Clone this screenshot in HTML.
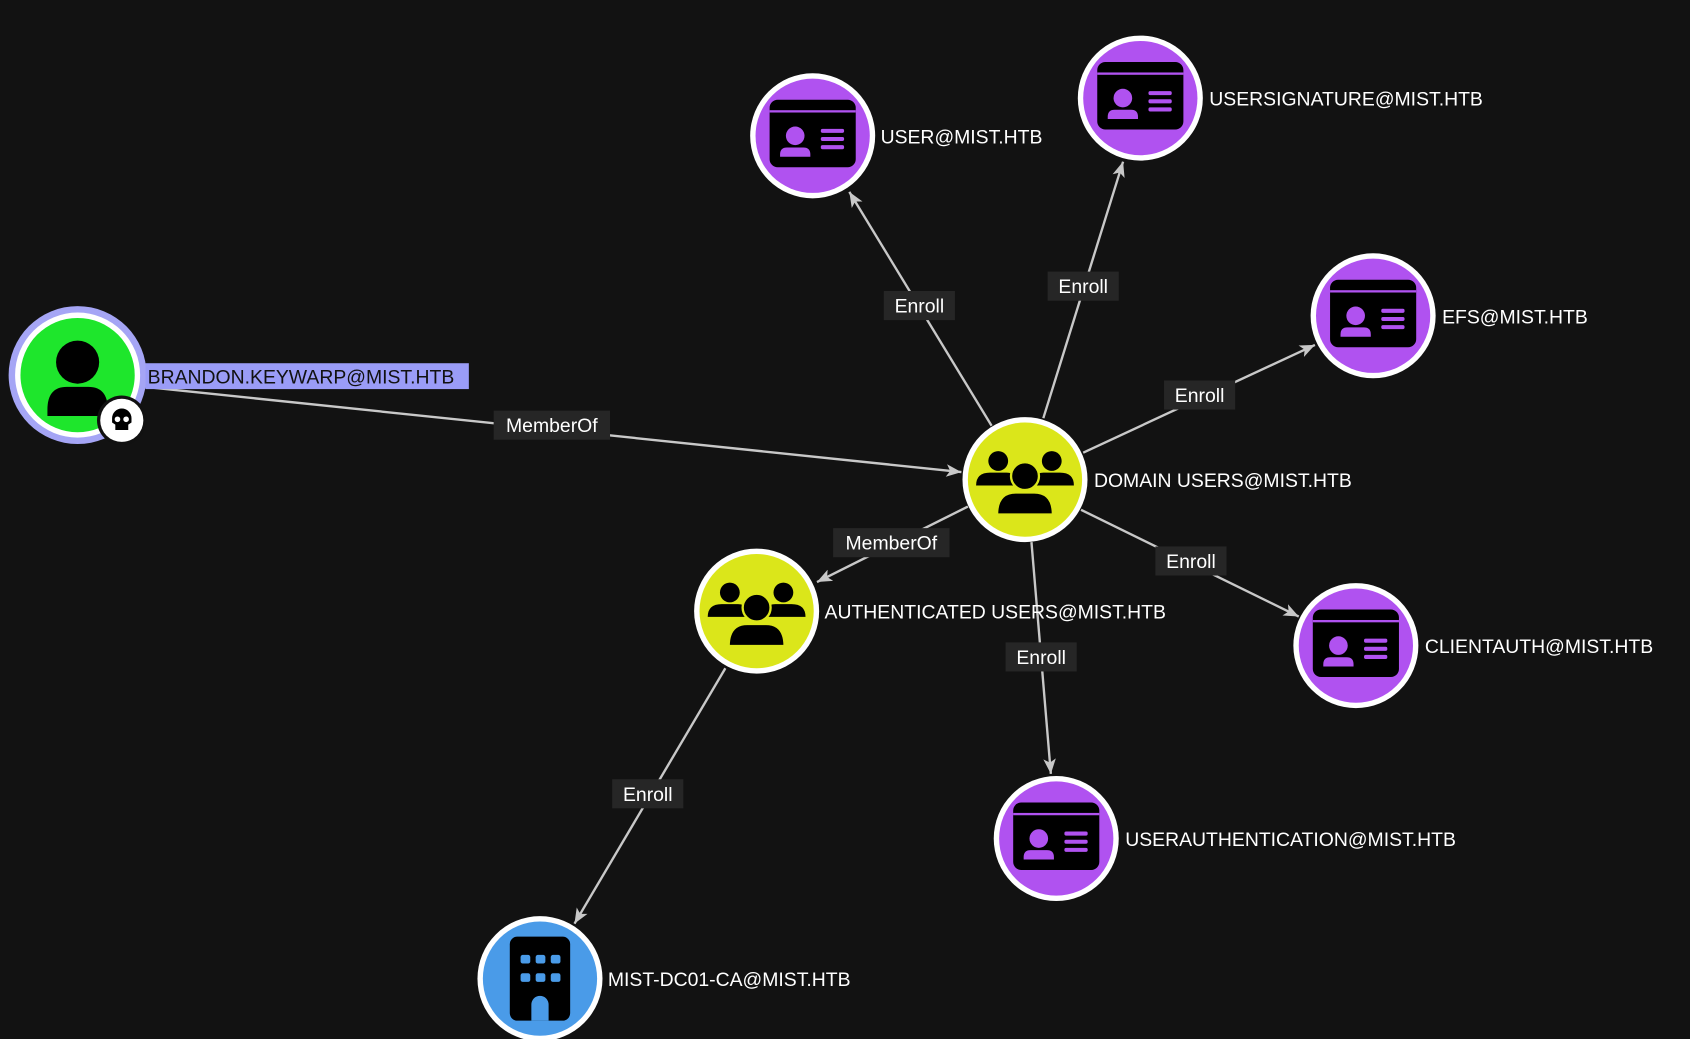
<!DOCTYPE html>
<html><head><meta charset="utf-8"><style>
html,body{margin:0;padding:0;background:#121212;}
svg{display:block}
text{font-family:"Liberation Sans",sans-serif;}
</style></head><body>
<svg width="1690" height="1039" viewBox="0 0 1568 964" preserveAspectRatio="none" xmlns="http://www.w3.org/2000/svg">
<defs>
<marker id="a2" viewBox="0 0 12 10" refX="12" refY="5" markerWidth="14" markerHeight="12" orient="auto" markerUnits="userSpaceOnUse">
<path d="M0,0 L12,5 L0,10 L3,5 z" fill="#c8c8c8"/>
</marker>
<g id="card">
<circle r="58" fill="#fff"/><circle r="53" fill="#b052f0"/>
<g transform="scale(1.08)">
<rect x="-37" y="-31" width="74" height="58" rx="7" fill="#000"/>
<rect x="-37" y="-22" width="74" height="2" fill="#b052f0"/>
<circle cx="-15" cy="0" r="8" fill="#b052f0"/>
<path d="M-28,16 Q-28,10 -22,10 L-8,10 Q-2,10 -2,16 L-2,18 L-28,18 z" fill="#b052f0"/>
<rect x="7" y="-6" width="20" height="3.5" rx="1.5" fill="#b052f0"/>
<rect x="7" y="1" width="20" height="3.5" rx="1.5" fill="#b052f0"/>
<rect x="7" y="8" width="20" height="3.5" rx="1.5" fill="#b052f0"/>
</g>
</g>
<g id="grp">
<circle r="58" fill="#fff"/><circle r="53" fill="#dbe61a"/>
<g transform="scale(1.08)">
<circle cx="-23" cy="-16" r="8.5" fill="#000"/>
<circle cx="23" cy="-16" r="8.5" fill="#000"/>
<path d="M-42,5 Q-42,-6 -30,-6 L-16,-6 Q-6,-6 -6,5 z" fill="#000"/>
<path d="M42,5 Q42,-6 30,-6 L16,-6 Q6,-6 6,5 z" fill="#000"/>
<circle cx="0" cy="-3" r="12" fill="#000" stroke="#dbe61a" stroke-width="2"/>
<path d="M-24,30 Q-24,11 -8,11 L8,11 Q24,11 24,30 z" fill="#000" stroke="#dbe61a" stroke-width="2"/>
</g>
</g>
</defs>

<g stroke="#c8c8c8" stroke-width="2.2" fill="none" marker-end="url(#a2)">
<line x1="135" y1="359" x2="892" y2="438"/>
<line x1="920" y1="395" x2="788" y2="178"/>
<line x1="968" y1="388" x2="1042" y2="150"/>
<line x1="1005" y1="420" x2="1220" y2="320"/>
<line x1="1003" y1="473" x2="1205" y2="572"/>
<line x1="957" y1="503" x2="975" y2="718"/>
<line x1="898" y1="470" x2="758" y2="540"/>
<line x1="673" y1="620" x2="533" y2="857"/>
</g>

<g font-size="18" fill="#fff" text-anchor="middle">
<rect x="458" y="381" width="108" height="27" fill="#262626"/><text x="512" y="401">MemberOf</text>
<rect x="773" y="490" width="108" height="27" fill="#262626"/><text x="827" y="510">MemberOf</text>
<rect x="820" y="270" width="66" height="27" fill="#262626"/><text x="853" y="290">Enroll</text>
<rect x="972" y="252" width="66" height="27" fill="#262626"/><text x="1005" y="272">Enroll</text>
<rect x="1080" y="353" width="66" height="27" fill="#262626"/><text x="1113" y="373">Enroll</text>
<rect x="1072" y="507" width="66" height="27" fill="#262626"/><text x="1105" y="527">Enroll</text>
<rect x="933" y="596" width="66" height="27" fill="#262626"/><text x="966" y="616">Enroll</text>
<rect x="568" y="723" width="66" height="27" fill="#262626"/><text x="601" y="743">Enroll</text>
</g>

<!-- Brandon -->
<circle cx="72" cy="348" r="64" fill="#a5a5f5"/>
<circle cx="72" cy="348" r="58" fill="#fff"/>
<circle cx="72" cy="348" r="53" fill="#1ee62c"/>
<circle cx="72" cy="336" r="20" fill="#000"/>
<path d="M44,380 Q44,359 62,359 L82,359 Q100,359 100,380 L100,386 L44,386 z" fill="#000"/>
<circle cx="113" cy="390" r="23" fill="#111"/>
<circle cx="113" cy="390" r="20" fill="#fff"/>
<path d="M104,388 a9,9 0 1 1 18,0 l0,4 l-3,2 l0,5 l-12,0 l0,-5 l-3,-2 z" fill="#000"/>
<circle cx="109" cy="389" r="2.6" fill="#fff"/><circle cx="117" cy="389" r="2.6" fill="#fff"/>
<rect x="135" y="337" width="300" height="24" fill="#9a9cf7"/>
<text x="137" y="356" font-size="18" fill="#111">BRANDON.KEYWARP@MIST.HTB</text>

<use href="#grp" x="951" y="445"/>
<use href="#grp" x="702" y="567"/>
<use href="#card" x="754" y="126"/>
<use href="#card" x="1058" y="91"/>
<use href="#card" x="1274" y="293"/>
<use href="#card" x="1258" y="599"/>
<use href="#card" x="980" y="778"/>

<!-- DC01 -->
<circle cx="501" cy="908" r="58" fill="#fff"/><circle cx="501" cy="908" r="53" fill="#4a9be8"/>
<rect x="473" y="869" width="56" height="78" rx="7" fill="#000"/>
<g fill="#4a9be8">
<rect x="483" y="886" width="9" height="8" rx="2"/><rect x="497" y="886" width="9" height="8" rx="2"/><rect x="511" y="886" width="9" height="8" rx="2"/>
<rect x="483" y="903" width="9" height="8" rx="2"/><rect x="497" y="903" width="9" height="8" rx="2"/><rect x="511" y="903" width="9" height="8" rx="2"/>
<path d="M493,947 L493,932 a8,8 0 0 1 16,0 L509,947 z"/>
</g>

<g font-size="18" fill="#fff">
<text x="817" y="133">USER@MIST.HTB</text>
<text x="1122" y="98">USERSIGNATURE@MIST.HTB</text>
<text x="1338" y="300">EFS@MIST.HTB</text>
<text x="1015" y="452">DOMAIN USERS@MIST.HTB</text>
<text x="765" y="574">AUTHENTICATED USERS@MIST.HTB</text>
<text x="1322" y="606">CLIENTAUTH@MIST.HTB</text>
<text x="1044" y="785">USERAUTHENTICATION@MIST.HTB</text>
<text x="564" y="915">MIST-DC01-CA@MIST.HTB</text>
</g>
</svg>
</body></html>
